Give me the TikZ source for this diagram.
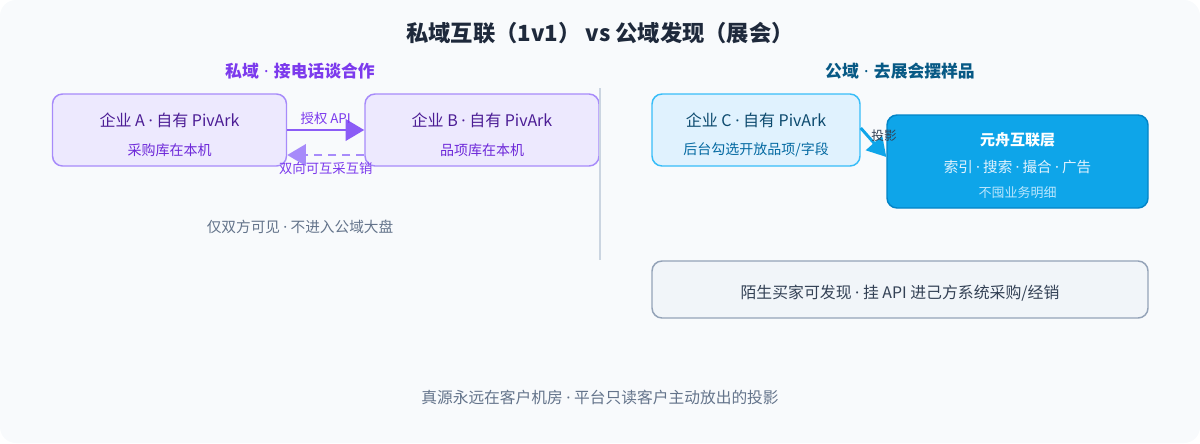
\documentclass[tikz,border=0pt]{standalone}
\usepackage{xcolor}
\usepackage{fontspec}
\setmainfont{Noto Sans CJK SC}
\newfontfamily\dotfont{Noto Sans}
\newcommand{\md}{{\dotfont ·}}
\usepackage{tikz}
\usetikzlibrary{arrows.meta,positioning}

\definecolor{panelbg}{HTML}{F8FAFC}
\definecolor{titleink}{HTML}{1E293B}
\definecolor{mutedink}{HTML}{64748B}
\definecolor{darkink}{HTML}{334155}
\definecolor{privhead}{HTML}{7C3AED}
\definecolor{privfill}{HTML}{EDE9FE}
\definecolor{privline}{HTML}{A78BFA}
\definecolor{privtext}{HTML}{4C1D95}
\definecolor{privsub}{HTML}{6D28D9}
\definecolor{privarrow}{HTML}{8B5CF6}
\definecolor{pubhead}{HTML}{075985}
\definecolor{pubfill}{HTML}{E0F2FE}
\definecolor{publine}{HTML}{38BDF8}
\definecolor{pubtext}{HTML}{0C4A6E}
\definecolor{pubsub}{HTML}{0369A1}
\definecolor{hubfill}{HTML}{0EA5E9}
\definecolor{hubline}{HTML}{0284C7}
\definecolor{hubsub}{HTML}{E0F2FE}
\definecolor{hubnote}{HTML}{BAE6FD}
\definecolor{buyerfill}{HTML}{F1F5F9}
\definecolor{buyerline}{HTML}{94A3B8}
\definecolor{divider}{HTML}{CBD5E1}

\begin{document}
\begin{tikzpicture}[
    x=0.75pt,
    y=-0.75pt,
    txt/.style={
        inner sep=0pt,
        anchor=center
    },
    priv_box/.style={
        rectangle,
        rounded corners=7.5pt,
        draw=privline,
        line width=1.1pt,
        fill=privfill,
        minimum width=175.5pt,
        minimum height=54pt
    },
    pub_box/.style={
        rectangle,
        rounded corners=7.5pt,
        draw=publine,
        line width=1.1pt,
        fill=pubfill,
        minimum width=156pt,
        minimum height=54pt
    },
    hub_box/.style={
        rectangle,
        rounded corners=7.5pt,
        draw=hubline,
        line width=1.1pt,
        fill=hubfill,
        minimum width=195.75pt,
        minimum height=69.75pt
    },
    buyer_box/.style={
        rectangle,
        rounded corners=7.5pt,
        draw=buyerline,
        line width=1.1pt,
        fill=buyerfill,
        minimum width=372pt,
        minimum height=42.75pt
    },
    api_arrow/.style={
        line width=2.2pt,
        color=privarrow,
        -{Triangle[length=14pt,width=16pt]}
    },
    back_arrow/.style={
        line width=2pt,
        color=privline,
        dash pattern=on 6pt off 4.5pt,
        -{Triangle[length=14pt,width=16pt]}
    },
    proj_arrow/.style={
        line width=2.2pt,
        color=hubfill,
        -{Triangle[length=14pt,width=16pt]}
    }
]

% 背景
\fill[panelbg, rounded corners=12pt] (0,0) rectangle (1200,443);
\useasboundingbox (0,0) rectangle (1200,443);

% 标题
\node[txt, text=titleink, font=\fontsize{16.7pt}{19pt}\selectfont\bfseries] (title) at (600,33) {私域互联（1v1） vs 公域发现（展会）};

% 私域
\node[txt, text=privhead, font=\fontsize{12.6pt}{14pt}\selectfont\bfseries] (privtitle) at (300,71) {私域\hspace{4pt}\md\hspace{4pt}接电话谈合作};

\node[priv_box] (entA) at (169.5,130) {};
\node[txt, text=privtext, font=\fontsize{12pt}{14pt}\selectfont] (entAname) at (169.5,120) {企业 A \md{} 自有 PivArk};
\node[txt, text=privsub, font=\fontsize{10.5pt}{12pt}\selectfont] (entAnote) at (169.5,150) {采购库在本机};

\node[priv_box] (entB) at (482,130) {};
\node[txt, text=privtext, font=\fontsize{12pt}{14pt}\selectfont] (entBname) at (482,120) {企业 B \md{} 自有 PivArk};
\node[txt, text=privsub, font=\fontsize{10.5pt}{12pt}\selectfont] (entBnote) at (482,150) {品项库在本机};

\draw[api_arrow] (entA) -- node[above=8.5pt, txt, text=privhead, font=\fontsize{10pt}{11pt}\selectfont] (apilabel) {授权 API} (entB);
\draw[back_arrow] ([yshift=-18.75pt]entB.west) -- node[below=10pt, txt, text=privhead, font=\fontsize{10pt}{11pt}\selectfont] (backlabel) {双向可互采互销} ([yshift=-18.75pt]entA.east);

\node[txt, text=mutedink, font=\fontsize{11pt}{12pt}\selectfont] (privnote) at (300,227) {仅双方可见 \md{} 不进入公域大盘};

% 分隔线
\coordinate (divtop) at (600,88);
\coordinate (divbot) at (600,260);
\draw[divider, line width=1.5pt] (divtop) -- (divbot);

% 公域
\node[txt, text=pubhead, font=\fontsize{12.6pt}{14pt}\selectfont\bfseries] (pubtitle) at (900,71) {公域\hspace{4pt}\md\hspace{4pt}去展会摆样品};

\node[pub_box] (entC) at (756,130) {};
\node[txt, text=pubtext, font=\fontsize{12pt}{14pt}\selectfont] (entCname) at (756,120) {企业 C \md{} 自有 PivArk};
\node[txt, text=pubsub, font=\fontsize{10.5pt}{12pt}\selectfont] (entCnote) at (756,150) {后台勾选开放品项/字段};

\node[hub_box] (hub) at (1017.5,161.5) {};
\draw[proj_arrow] ([yshift=1.5pt]entC.east) -- ([yshift=3.4pt]hub.west);
\node[txt, text=white, font=\fontsize{11.25pt}{13pt}\selectfont\bfseries] (hubname) at (1017.5,140) {元舟互联层};
\node[txt, text=hubsub, font=\fontsize{10.9pt}{13pt}\selectfont] (hubfunc) at (1017.5,167) {索引 \md{} 搜索 \md{} 撮合 \md{} 广告};
\node[txt, text=hubnote, font=\fontsize{9.75pt}{11pt}\selectfont] (hubnote) at (1017.5,193) {不囤业务明细};
\node[txt, text=darkink, font=\fontsize{9.5pt}{11pt}\selectfont] (projlabel) at (884,136) {投影};

\node[buyer_box] (buyer) at (900,289.5) {};
\node[txt, text=darkink, font=\fontsize{11.9pt}{13pt}\selectfont] (buyertext) at (900,293) {陌生买家可发现 \md{} 挂 API 进己方系统采购/经销};

% 底注
\node[txt, text=mutedink, font=\fontsize{11.8pt}{12pt}\selectfont] (footer) at (600,397) {真源永远在客户机房 \md{} 平台只读客户主动放出的投影};

\end{tikzpicture}
\end{document}
